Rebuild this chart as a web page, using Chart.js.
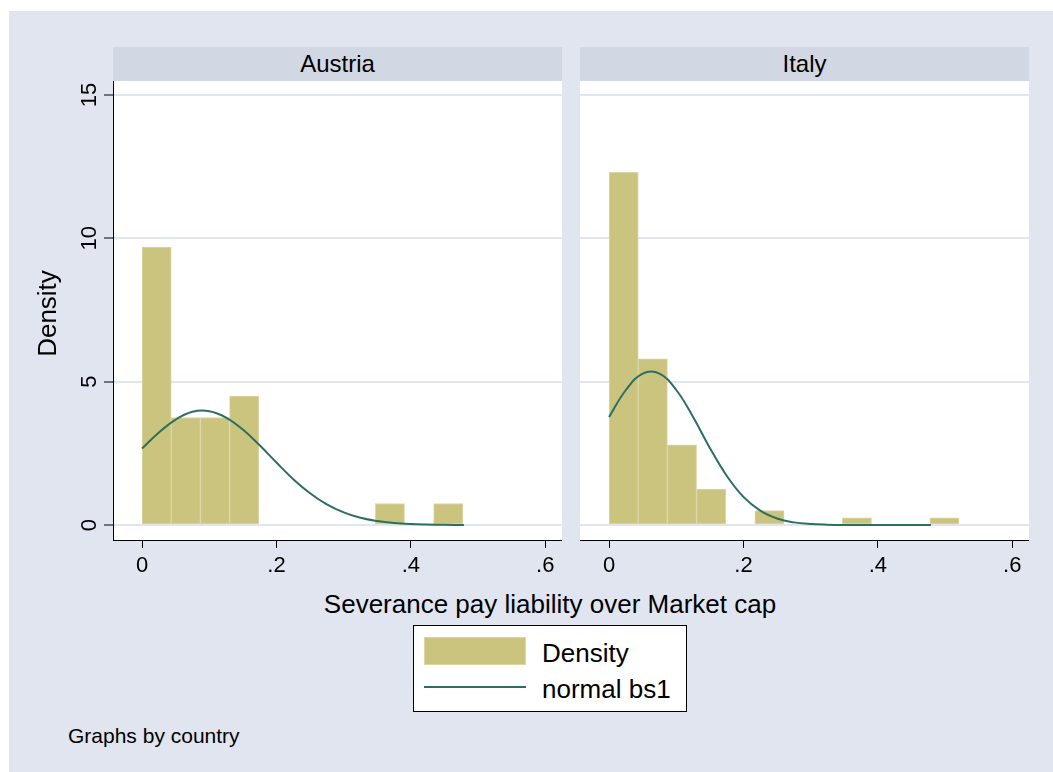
<!DOCTYPE html>
<html>
<head>
<meta charset="utf-8">
<script src="https://cdn.jsdelivr.net/npm/chart.js@4.4.1/dist/chart.umd.min.js"></script>
<style>
  body { margin: 0; background: #fff; width: 1053px; height: 772px; overflow: hidden;
         font-family: "Liberation Sans", Arial, sans-serif; color: #000; }
  .abs { position: absolute; }
  #frame { left: 9px; top: 11px; width: 1044px; height: 761px; background: #e0e5ef; }
  .strip { top: 47px; width: 449px; height: 34px; background: #d1d7e3;
           font-size: 24px; line-height: 34px; text-align: center; }
  #xtitle { left: 300px; top: 589px; width: 500px; text-align: center; font-size: 26px; line-height: 30px; }
  #legend { left: 413px; top: 625px; width: 274px; height: 87px; box-sizing: border-box;
            border: 1px solid #000; background: #fff; }
  .lgtext { font-size: 26px; line-height: 30px; left: 542px; }
  #note { left: 68px; top: 724px; font-size: 21px; line-height: 24px; }
</style>
</head>
<body>
<div id="frame" class="abs"></div>
<div class="abs strip" style="left:113px">Austria</div>
<div class="abs strip" style="left:580px">Italy</div>
<canvas id="austriaChart" class="abs" width="553" height="499" style="left:9px;top:81px;width:553px;height:499px"></canvas>
<canvas id="italyChart" class="abs" width="449" height="499" style="left:580px;top:81px;width:449px;height:499px"></canvas>
<div id="xtitle" class="abs">Severance pay liability over Market cap</div>
<div id="legend" class="abs"></div>
<div class="abs" style="left:424px;top:637px;width:102px;height:28px;box-sizing:border-box;background:#cbc47e;border:1px solid #dbd6a6"></div>
<div class="abs" style="left:424px;top:686px;width:102px;height:2px;background:#2d6e64"></div>
<div class="abs lgtext" style="top:638px">Density</div>
<div class="abs lgtext" style="top:674px">normal bs1</div>
<div id="note" class="abs">Graphs by country</div>

<script>
// histogram bins (midpoints) and densities
const austriaBins = [0.0217, 0.0651, 0.1085, 0.1519, 0.1953, 0.2387, 0.2821, 0.3255, 0.3689, 0.4123, 0.4557];
const austriaDensity = [9.7, 3.75, 3.75, 4.5, 0, 0, 0, 0, 0.75, 0, 0.75];

const italyBins = [0.0217, 0.0651, 0.1085, 0.1519, 0.1953, 0.2387, 0.2821, 0.3255, 0.3689, 0.4123, 0.4557, 0.4991];
const italyDensity = [12.3, 5.8, 2.8, 1.25, 0, 0.5, 0, 0, 0.25, 0, 0, 0.25];

// normal curves, points
const austriaCurveX = [0, 0.025, 0.05, 0.075, 0.1, 0.125, 0.15, 0.175, 0.2, 0.225, 0.25, 0.275, 0.3, 0.325, 0.35, 0.375, 0.4, 0.425, 0.45, 0.479];
const austriaCurveY = [2.67, 3.23, 3.68, 3.95, 3.97, 3.75, 3.33, 2.78, 2.18, 1.60, 1.11, 0.72, 0.44, 0.25, 0.136, 0.069, 0.033, 0.015, 0.006, 0.002];

const italyCurveX = [0, 0.025, 0.05, 0.075, 0.1, 0.125, 0.15, 0.175, 0.2, 0.225, 0.25, 0.275, 0.3, 0.325, 0.35, 0.4, 0.479];
const italyCurveY = [3.77, 4.71, 5.28, 5.28, 4.71, 3.77, 2.69, 1.72, 0.98, 0.50, 0.227, 0.092, 0.034, 0.011, 0.003, 0.0002, 0];

const xTicks = [0, 0.2, 0.4, 0.6];
const xTickLabels = ['0', '.2', '.4', '.6'];
const yTicks = [0, 5, 10, 15];
const yTickLabels = ['0', '5', '10', '15'];

const FONT = '"Liberation Sans", Arial, sans-serif';
const barFill = '#cbc47e';
const barLine = '#dbd6a6';
const curveColor = '#2d6e64';
const gridColor = '#e0e5ef';

// white plot region behind the grid
const plotBgPlugin = {
    id: 'plotBg',
    beforeDraw(chart) {
        const a = chart.chartArea;
        chart.ctx.save();
        chart.ctx.fillStyle = '#fff';
        chart.ctx.fillRect(a.left, a.top, a.right - a.left, a.bottom - a.top);
        chart.ctx.restore();
    }
};

// rotated y tick labels + y title, drawn on the left panel only
const yLabelsPlugin = {
    id: 'yLabels',
    afterDraw(chart) {
        const ctx = chart.ctx;
        const y = chart.scales.y;
        ctx.save();
        ctx.fillStyle = '#000';
        ctx.textAlign = 'center';
        ctx.textBaseline = 'alphabetic';
        ctx.font = '22px ' + FONT;
        yTicks.forEach(function (v, i) {
            ctx.save();
            ctx.translate(chart.chartArea.left - 17, y.getPixelForValue(v));
            ctx.rotate(-Math.PI / 2);
            ctx.fillText(yTickLabels[i], 0, 0);
            ctx.restore();
        });
        ctx.font = '26px ' + FONT;
        ctx.translate(47, (chart.chartArea.top + chart.chartArea.bottom) / 2 + 3);
        ctx.rotate(-Math.PI / 2);
        ctx.fillText('Density', 0, 0);
        ctx.restore();
    }
};

function makePanel(canvasId, bins, density, curveX, curveY, showY) {
    return new Chart(document.getElementById(canvasId), {
        type: 'bar',
        data: {
            datasets: [{
                type: 'line',
                label: 'normal bs1',
                data: curveX.map(function (x, i) { return { x: x, y: curveY[i] }; }),
                borderColor: curveColor,
                borderWidth: 2,
                pointRadius: 0,
                tension: 0.4,
                fill: false,
                order: 1
            }, {
                type: 'bar',
                label: 'Density',
                data: bins.map(function (x, i) { return { x: x, y: density[i] }; }),
                backgroundColor: barFill,
                borderColor: barLine,
                borderWidth: 1,
                borderSkipped: false,
                barPercentage: 1,
                categoryPercentage: 1,
                order: 2
            }]
        },
        options: {
            responsive: false,
            animation: false,
            events: [],
            layout: { padding: 0 },
            plugins: {
                legend: { display: false },
                tooltip: { enabled: false }
            },
            scales: {
                x: {
                    type: 'linear',
                    offset: false,
                    min: -0.0433,
                    max: 0.625,
                    afterBuildTicks: function (axis) {
                        axis.ticks = xTicks.map(function (v) { return { value: v }; });
                    },
                    afterFit: function (axis) { axis.height = 40; },
                    ticks: {
                        autoSkip: false,
                        maxRotation: 0,
                        minRotation: 0,
                        padding: 5,
                        color: '#000',
                        font: { size: 22, family: FONT },
                        callback: function (v) { return xTickLabels[xTicks.indexOf(v)]; }
                    },
                    grid: {
                        offset: false,
                        drawOnChartArea: false,
                        tickLength: 8,
                        tickColor: '#000',
                        tickWidth: 1
                    },
                    border: { display: true, color: '#000', width: 1 }
                },
                y: {
                    type: 'linear',
                    min: -0.523,
                    max: 15.49,
                    afterBuildTicks: function (axis) {
                        axis.ticks = yTicks.map(function (v) { return { value: v }; });
                    },
                    afterFit: function (axis) { axis.width = showY ? 104 : 0; },
                    ticks: { display: false },
                    grid: {
                        color: gridColor,
                        lineWidth: 2,
                        drawTicks: showY,
                        tickLength: 9,
                        tickColor: '#000',
                        tickWidth: 1
                    },
                    border: { display: showY, color: '#000', width: 1 }
                }
            }
        },
        plugins: showY ? [plotBgPlugin, yLabelsPlugin] : [plotBgPlugin]
    });
}

makePanel('austriaChart', austriaBins, austriaDensity, austriaCurveX, austriaCurveY, true);
makePanel('italyChart', italyBins, italyDensity, italyCurveX, italyCurveY, false);
</script>
</body>
</html>
